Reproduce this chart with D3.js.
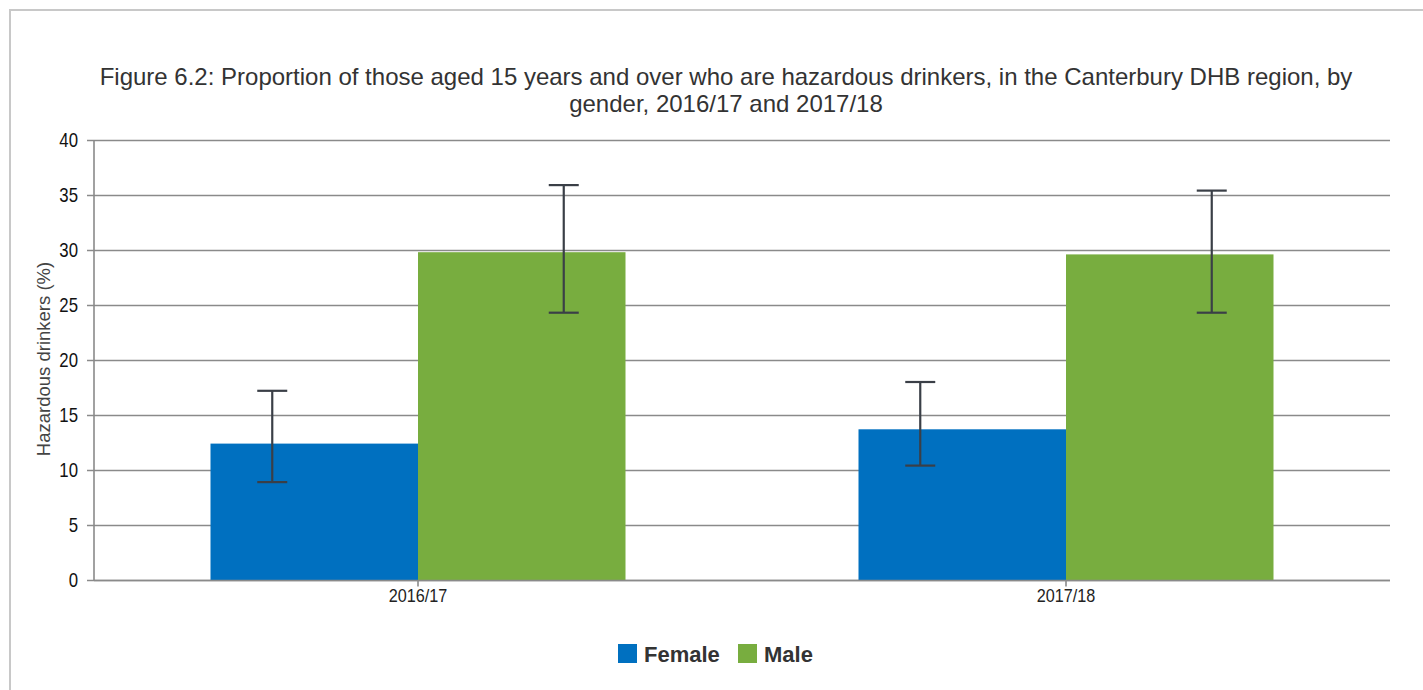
<html>
<head>
<script src="https://d3js.org/d3.v7.min.js"></script>
<style>
  body { margin: 0; background: #fff; }
  text { font-family: "Liberation Sans", Arial, sans-serif; }
</style>
</head>
<body>
<svg id="chart" width="1423" height="690"></svg>
<script>
    // data
    var years = ["2016/17", "2017/18"];
    var genders = ["Female", "Male"];
    var colours = ["#0070c0", "#78ad3f"];
    var female = [12.4, 13.7];
    var femaleLow = [8.9, 10.4];
    var femaleHigh = [17.2, 18.0];
    var male = [29.8, 29.6];
    var maleLow = [24.3, 24.3];
    var maleHigh = [35.9, 35.4];
    var yTicks = [0, 5, 10, 15, 20, 25, 30, 35, 40];

    var svg = d3.select("#chart");

    // frame
    svg.append("path")
        .attr("d", "M10,690 L10,10 L1423,10")
        .attr("fill", "none")
        .attr("stroke", "#c8c8c8")
        .attr("stroke-width", 2);

    var plotL = 94, plotR = 1390, plotT = 140, plotB = 580;

    var x = d3.scaleBand().domain(years).range([plotL, plotR]);
    var xs = d3.scaleBand().domain(genders).range([-207.5, 207.5]);
    var y = d3.scaleLinear().domain([0, 40]).range([plotB, plotT]);

    // grid lines
    svg.append("g").selectAll("line").data(yTicks).enter()
        .append("line")
        .attr("x1", plotL - 7).attr("x2", plotR)
        .attr("y1", function(d) { return y(d) + 0.5; })
        .attr("y2", function(d) { return y(d) + 0.5; })
        .attr("stroke", "#8a8a8a")
        .attr("stroke-width", 1.6);

    // y axis (labels are a narrow face in the original, so squeeze them)
    var sq = 0.84;
    var yAxis = svg.append("g")
        .attr("transform", "translate(" + (plotL - 9) + ",0)")
        .call(d3.axisLeft(y).tickValues(yTicks).tickSize(0).tickPadding(7));
    yAxis.select(".domain").remove();
    yAxis.selectAll("text")
        .attr("font-size", 20)
        .attr("fill", "#111")
        .attr("x", -7 / sq)
        .attr("transform", "scale(" + sq + ",1)");

    svg.append("line")
        .attr("x1", plotL).attr("x2", plotL)
        .attr("y1", plotT).attr("y2", plotB)
        .attr("stroke", "#8a8a8a").attr("stroke-width", 1.6);

    // bars
    var rows = years.map(function(yr, i) {
        return [
            { year: yr, g: "Female", v: female[i], lo: femaleLow[i], hi: femaleHigh[i], c: colours[0], off: -42 },
            { year: yr, g: "Male", v: male[i], lo: maleLow[i], hi: maleHigh[i], c: colours[1], off: 42 }
        ];
    });
    var flat = [].concat.apply([], rows);
    var cx = function(d) { return x(d.year) + x.bandwidth() / 2; };

    svg.append("g").selectAll("rect").data(flat).enter()
        .append("rect")
        .attr("x", function(d) { return cx(d) + xs(d.g); })
        .attr("width", xs.bandwidth())
        .attr("y", function(d) { return y(d.v); })
        .attr("height", function(d) { return y(0) - y(d.v); })
        .attr("fill", function(d) { return d.c; });

    // x axis
    var xAxis = svg.append("g")
        .attr("transform", "translate(0," + (plotB + 0.5) + ")")
        .call(d3.axisBottom(x).tickSize(6).tickPadding(3));
    xAxis.select(".domain").attr("stroke", "#8a8a8a").attr("stroke-width", 1.6)
        .attr("d", "M" + plotL + ",0H" + plotR);
    xAxis.selectAll(".tick line").attr("stroke", "#8a8a8a").attr("stroke-width", 1.6);
    xAxis.selectAll("text").attr("font-size", 18).attr("fill", "#222")
        .attr("transform", "scale(0.9,1)");

    // error bars
    var barMid = function(d) { return cx(d) + xs(d.g) + xs.bandwidth() / 2 + d.off; };
    var eb = svg.append("g").selectAll("g").data(flat).enter().append("g")
        .attr("stroke", "#3a3f47").attr("stroke-width", 2.2);
    eb.append("line")
        .attr("x1", barMid).attr("x2", barMid)
        .attr("y1", function(d) { return y(d.hi); })
        .attr("y2", function(d) { return y(d.lo); });
    ["hi", "lo"].forEach(function(k) {
        eb.append("line")
            .attr("x1", function(d) { return barMid(d) - 15; })
            .attr("x2", function(d) { return barMid(d) + 15; })
            .attr("y1", function(d) { return y(d[k]); })
            .attr("y2", function(d) { return y(d[k]); });
    });

    // title
    var title = svg.append("text")
        .attr("text-anchor", "middle")
        .attr("font-size", 24)
        .attr("fill", "#333");
    title.append("tspan").attr("x", 726).attr("y", 85)
        .text("Figure 6.2: Proportion of those aged 15 years and over who are hazardous drinkers, in the Canterbury DHB region, by");
    title.append("tspan").attr("x", 726).attr("y", 112)
        .text("gender, 2016/17 and 2017/18");

    // y axis title
    svg.append("text")
        .attr("transform", "translate(50,359) rotate(-90)")
        .attr("text-anchor", "middle")
        .attr("font-size", 18.5)
        .attr("fill", "#444")
        .text("Hazardous drinkers (%)");

    // legend
    var legend = svg.append("g").selectAll("g").data(genders).enter().append("g")
        .attr("transform", function(d, i) { return "translate(" + (618 + i * 120) + ",644)"; });
    legend.append("rect")
        .attr("width", 19).attr("height", 19)
        .attr("fill", function(d, i) { return colours[i]; });
    legend.append("text")
        .attr("x", 26).attr("y", 18)
        .attr("font-size", 22).attr("font-weight", "bold")
        .attr("fill", "#333")
        .text(function(d) { return d; });
</script>
</body>
</html>
